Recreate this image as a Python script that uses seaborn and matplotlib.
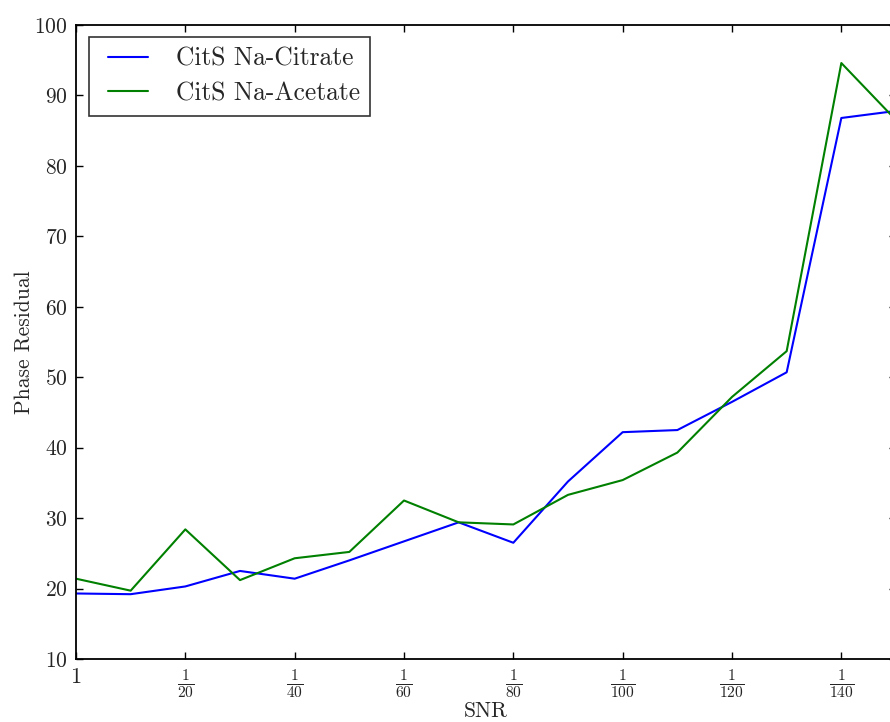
import numpy as np
import pandas as pd
import seaborn as sns
import matplotlib.pyplot as plt
from matplotlib.legend_handler import HandlerLine2D

# SNR steps (plotted as 0..150, labelled 1, 1/20, 1/40 ...)
snr = [0, 10, 20, 30, 40, 50, 60, 70, 80, 90, 100, 110, 120, 130, 140, 150]
citrate = [19.3, 19.2, 20.3, 22.5, 21.4, 24.0, 26.7, 29.4, 26.5, 35.2,
           42.2, 42.5, 46.5, 50.7, 86.8, 87.8]
acetate = [21.4, 19.7, 28.4, 21.2, 24.3, 25.2, 32.5, 29.4, 29.1, 33.3,
           35.4, 39.3, 47.2, 53.7, 94.6, 86.5]
series_names = ['CitS Na-Citrate', 'CitS Na-Acetate']
tick_pos = [0, 20, 40, 60, 80, 100, 120, 140]
tick_labels = ['$1$'] + [r'$\frac{1}{%d}$' % t for t in tick_pos[1:]]

df = pd.DataFrame({
    'snr': snr * 2,
    'residual': citrate + acetate,
    'series': [series_names[0]] * len(snr) + [series_names[1]] * len(snr),
})

sns.set_style('ticks')
plt.rcParams['font.family'] = ['cmr10', 'DejaVu Serif']
plt.rcParams['mathtext.fontset'] = 'cm'
plt.rcParams['axes.formatter.use_mathtext'] = True

fig = plt.figure(figsize=(8.9, 7.22), dpi=100)
ax = fig.add_axes([76 / 890, 63 / 722, 820 / 890, 634 / 722])

sns.lineplot(data=df, x='snr', y='residual', hue='series',
             palette=['#0000ff', '#008000'], linewidth=1.5, ax=ax)

ax.set_xlim(0, 150)
ax.set_ylim(10, 100)
ax.set_yticks(range(10, 101, 10))
ax.set_xticks(tick_pos)
ax.set_xticklabels(tick_labels)
ax.tick_params(axis='both', which='major', direction='in', length=5,
               width=1, top=True, right=True, labelsize=15.5, pad=6,
               color='black')
ax.tick_params(axis='x', labelsize=16)
for s in ax.spines.values():
    s.set_linewidth(1.3)
    s.set_color('black')

ax.set_xlabel('SNR', fontsize=15.5, labelpad=1)
ax.set_ylabel('Phase Residual', fontsize=15.5, labelpad=0)

handles, labels = ax.get_legend_handles_labels()
leg = ax.legend(handles, labels, loc='upper left', fontsize=18.4,
                frameon=True, fancybox=False, handlelength=1.9,
                handletextpad=1.1, borderpad=0.4, labelspacing=0.42,
                borderaxespad=0, bbox_to_anchor=(13 / 820, 1 - 12 / 634),
                handler_map={h: HandlerLine2D(xpad=0.35) for h in handles})
leg.get_frame().set_edgecolor('black')
leg.get_frame().set_linewidth(1.2)

fig.savefig('out.png', dpi=100)
